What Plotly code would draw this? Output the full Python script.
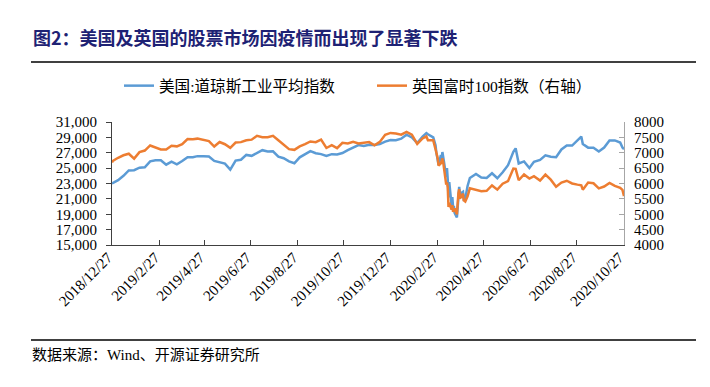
import plotly.graph_objects as go
from plotly.subplots import make_subplots

# ---------------- data ----------------
dates = [
    "2018-12-27", "2018-12-28", "2019-01-04", "2019-01-11", "2019-01-18", "2019-01-25",
    "2019-02-01", "2019-02-08", "2019-02-15", "2019-02-22", "2019-03-01", "2019-03-08",
    "2019-03-15", "2019-03-22", "2019-03-29", "2019-04-05", "2019-04-12", "2019-04-18",
    "2019-04-26", "2019-05-03", "2019-05-10", "2019-05-17", "2019-05-24", "2019-05-31",
    "2019-06-07", "2019-06-14", "2019-06-21", "2019-06-28", "2019-07-05", "2019-07-12",
    "2019-07-19", "2019-07-26", "2019-08-02", "2019-08-09", "2019-08-16", "2019-08-23",
    "2019-08-30", "2019-09-06", "2019-09-13", "2019-09-20", "2019-09-27", "2019-10-04",
    "2019-10-11", "2019-10-18", "2019-10-25", "2019-11-01", "2019-11-08", "2019-11-15",
    "2019-11-22", "2019-11-29", "2019-12-06", "2019-12-13", "2019-12-20", "2019-12-27",
    "2020-01-03", "2020-01-10", "2020-01-17", "2020-01-24", "2020-01-31", "2020-02-07",
    "2020-02-12", "2020-02-14", "2020-02-21", "2020-02-24", "2020-02-25", "2020-02-27",
    "2020-02-28", "2020-03-02", "2020-03-03", "2020-03-04", "2020-03-05", "2020-03-06",
    "2020-03-09", "2020-03-10", "2020-03-11", "2020-03-12", "2020-03-13", "2020-03-16",
    "2020-03-17", "2020-03-18", "2020-03-19", "2020-03-20", "2020-03-23", "2020-03-24",
    "2020-03-25", "2020-03-26", "2020-03-27", "2020-03-31", "2020-04-01", "2020-04-03",
    "2020-04-06", "2020-04-09", "2020-04-17", "2020-04-24", "2020-05-01", "2020-05-08",
    "2020-05-15", "2020-05-22", "2020-05-29", "2020-06-05", "2020-06-08", "2020-06-12",
    "2020-06-19", "2020-06-26", "2020-07-02", "2020-07-10", "2020-07-17", "2020-07-24",
    "2020-07-31", "2020-08-07", "2020-08-14", "2020-08-21", "2020-08-28", "2020-09-02",
    "2020-09-04", "2020-09-11", "2020-09-18", "2020-09-25", "2020-10-02", "2020-10-09",
    "2020-10-16", "2020-10-23", "2020-10-26", "2020-10-28",
]

djia = [
    23138, 23062, 23433, 23996, 24706, 24737,
    25064, 25106, 25883, 26031, 26026, 25450,
    25849, 25502, 25929, 26425, 26412, 26559,
    26543, 26505, 25942, 25764, 25586, 24815,
    25984, 26090, 26719, 26600, 26922, 27332,
    27154, 27192, 26485, 26287, 25886, 25629,
    26403, 26797, 27220, 26935, 26820, 26573,
    26817, 26770, 26958, 27347, 27681, 28005,
    27876, 28051, 28015, 28135, 28455, 28645,
    28635, 28824, 29348, 28990, 28256, 29103,
    29551, 29398, 28992, 27961, 27081, 25767,
    25409, 26703, 25917, 27091, 26121, 25865,
    23851, 25018, 23553, 21200, 23185, 20189,
    21237, 19899, 20087, 19174, 18592, 20705,
    21201, 22552, 21637, 21917, 20944, 21053,
    22680, 23719, 24242, 23775, 23724, 24331,
    23685, 24465, 25383, 27111, 27572, 25606,
    25871, 25016, 25827, 26075, 26672, 26470,
    26428, 27433, 27931, 27930, 28654, 29100,
    28133, 27666, 27657, 27174, 27683, 28587,
    28606, 28336, 27685, 27460,
]

ftse = [
    6680, 6734, 6837, 6918, 6968, 6809,
    7020, 7071, 7237, 7179, 7107, 7104,
    7228, 7208, 7279, 7447, 7437, 7459,
    7428, 7380, 7203, 7348, 7277, 7161,
    7331, 7345, 7407, 7426, 7553, 7506,
    7508, 7549, 7407, 7253, 7117, 7095,
    7207, 7282, 7367, 7345, 7426, 7155,
    7247, 7150, 7324, 7302, 7359, 7303,
    7327, 7347, 7240, 7353, 7582, 7645,
    7623, 7588, 7675, 7586, 7286, 7467,
    7534, 7409, 7404, 7157, 7018, 6796,
    6581, 6654, 6718, 6815, 6705, 6463,
    5966, 6036, 5876, 5237, 5366, 5151,
    5294, 5080, 5151, 5191, 4994, 5446,
    5688, 5816, 5510, 5672, 5454, 5416,
    5582, 5843, 5787, 5752, 5763, 5936,
    5800, 5993, 6077, 6484, 6473, 6105,
    6292, 6159, 6240, 6095, 6290, 6124,
    5898, 6032, 6090, 6002, 5964, 5940,
    5799, 6032, 6007, 5843, 5902, 6017,
    5920, 5860, 5792, 5590,
]

tick_dates = [
    "2018-12-27", "2019-02-27", "2019-04-27", "2019-06-27", "2019-08-27", "2019-10-27",
    "2019-12-27", "2020-02-27", "2020-04-27", "2020-06-27", "2020-08-27", "2020-10-27",
]
tick_labels = [
    "2018/12/27", "2019/2/27", "2019/4/27", "2019/6/27", "2019/8/27", "2019/10/27",
    "2019/12/27", "2020/2/27", "2020/4/27", "2020/6/27", "2020/8/27", "2020/10/27",
]

series_names = ["美国:道琼斯工业平均指数", "英国富时100指数（右轴）"]
title_text = "图2：美国及英国的股票市场因疫情而出现了显著下跌"
source_text = "数据来源：Wind、开源证券研究所"

# ---------------- layout geometry ----------------
W, H = 710, 387
L, R, T, B = 104, 616, 114, 237  # plot area in px


def px_x(x):
    return (x - L) / (R - L)


def px_y(y):
    return (B - y) / (B - T)


SERIF = "Liberation Serif, Times New Roman, Noto Sans CJK SC, serif"
CJK_SANS = "Noto Sans CJK SC, sans-serif"

fig = make_subplots(specs=[[{"secondary_y": True}]])

fig.add_trace(
    go.Scatter(x=dates, y=djia, name=series_names[0], mode="lines",
               line=dict(color="#5B9BD5", width=2.5)),
    secondary_y=False,
)
fig.add_trace(
    go.Scatter(x=dates, y=ftse, name=series_names[1], mode="lines",
               line=dict(color="#ED7D31", width=2.5)),
    secondary_y=True,
)

fig.update_layout(
    width=W, height=H,
    margin=dict(l=L, r=W - R, t=T, b=H - B, pad=0),
    paper_bgcolor="white", plot_bgcolor="white",
    font=dict(family=SERIF, size=15, color="black"),
    showlegend=True,
    legend=dict(orientation="h", x=px_x(111), y=px_y(78), xanchor="left", yanchor="middle",
                font=dict(family=SERIF, size=15.6, color="black"),
                entrywidth=208, entrywidthmode="pixels",
                bgcolor="rgba(0,0,0,0)", borderwidth=0, tracegroupgap=0),
)

fig.update_xaxes(
    domain=[0, 1],
    type="date", range=["2018-12-27", "2020-10-28"],
    tickmode="array", tickvals=tick_dates, ticktext=tick_labels,
    tickangle=-45, ticks="inside", ticklen=5, tickcolor="#404040",
    ticklabelshift=-4, ticklabelstandoff=-3,
    showline=True, linecolor="#404040", linewidth=1,
    showgrid=False, zeroline=False,
    tickfont=dict(family=SERIF, size=15, color="black"),
)
fig.update_yaxes(
    range=[15000, 31000], dtick=2000, tick0=15000, tickformat=",d",
    ticks="outside", ticklen=5, tickcolor="#404040",
    ticklabelstandoff=6,
    showline=True, linecolor="#404040", linewidth=1,
    showgrid=False, zeroline=False,
    tickfont=dict(family=SERIF, size=15, color="black"),
    secondary_y=False,
)
fig.update_yaxes(
    range=[4000, 8000], dtick=500, tick0=4000, tickformat="d",
    ticks="inside", ticklen=5, tickcolor="#A6A6A6",
    ticklabelstandoff=6,
    showline=True, linecolor="#A6A6A6", linewidth=1,
    showgrid=False, zeroline=False,
    tickfont=dict(family=SERIF, size=15, color="black"),
    secondary_y=True,
)

# title
fig.add_annotation(
    xref="paper", yref="paper", x=px_x(23), y=px_y(29), xanchor="left", yanchor="middle",
    text="<b>" + title_text + "</b>", showarrow=False,
    font=dict(family=CJK_SANS, size=18, color="#1E2274"),
)
# source
fig.add_annotation(
    xref="paper", yref="paper", x=px_x(22), y=px_y(347), xanchor="left", yanchor="middle",
    text=source_text, showarrow=False,
    font=dict(family="Liberation Serif, Noto Sans CJK SC, serif", size=15, color="black"),
)
# separator lines
fig.add_shape(type="line", xref="paper", yref="paper",
              x0=px_x(23), x1=px_x(688), y0=px_y(54), y1=px_y(54),
              line=dict(color="black", width=1.5))
fig.add_shape(type="line", xref="paper", yref="paper",
              x0=px_x(23), x1=px_x(688), y0=px_y(332), y1=px_y(332),
              line=dict(color="black", width=1.5))

fig.write_html("out.html")
